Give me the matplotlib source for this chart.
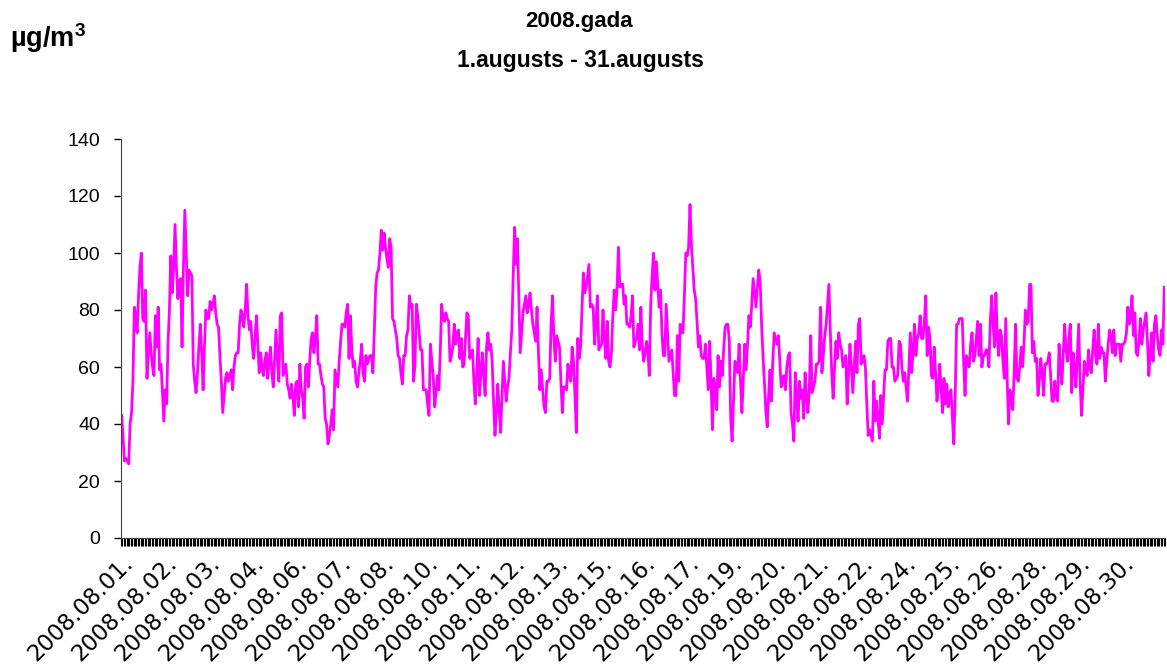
import numpy as np
import matplotlib.pyplot as plt

plt.rcParams['font.family'] = ['Liberation Sans', 'DejaVu Sans']
plt.rcParams['mathtext.fontset'] = 'custom'
plt.rcParams['mathtext.rm'] = 'Liberation Sans'
plt.rcParams['mathtext.bf'] = 'Liberation Sans:bold'

# hourly values, one list per day of August 2008
day01 = [43, 35, 27, 28, 27, 26, 40, 44, 55, 81, 78, 72, 85, 95, 100, 77, 76, 87, 56, 65, 72, 65, 60, 57]
day02 = [78, 67, 81, 59, 61, 52, 41, 52, 47, 68, 80, 99, 86, 95, 110, 95, 84, 90, 91, 67, 95, 115, 100, 85]
day03 = [94, 93, 92, 61, 55, 51, 58, 67, 75, 65, 52, 68, 80, 77, 77, 83, 80, 82, 85, 79, 75, 74, 64, 55]
day04 = [44, 50, 56, 58, 55, 57, 59, 52, 60, 64, 65, 65, 75, 80, 78, 74, 80, 89, 78, 73, 76, 68, 63, 70]
day05 = [78, 68, 58, 65, 60, 57, 62, 65, 56, 62, 67, 58, 53, 63, 73, 62, 55, 78, 79, 57, 59, 61, 54, 52]
day06 = [49, 54, 50, 43, 54, 55, 46, 61, 52, 49, 42, 60, 61, 53, 62, 70, 72, 65, 70, 78, 61, 61, 57, 54]
day07 = [53, 42, 40, 33, 36, 40, 45, 38, 59, 56, 53, 62, 69, 75, 75, 74, 79, 82, 63, 78, 66, 60, 62, 55]
day08 = [53, 58, 62, 68, 58, 55, 64, 61, 63, 64, 64, 58, 72, 88, 93, 94, 100, 108, 101, 107, 102, 98, 95, 105]
day09 = [102, 77, 76, 73, 70, 64, 63, 58, 54, 64, 64, 71, 73, 85, 81, 82, 55, 61, 82, 78, 72, 66, 66, 52]
day10 = [52, 52, 47, 43, 68, 62, 57, 46, 51, 57, 52, 65, 82, 77, 76, 79, 77, 76, 62, 64, 67, 75, 68, 72]
day11 = [73, 63, 70, 60, 61, 70, 79, 78, 63, 65, 66, 55, 47, 58, 70, 50, 58, 65, 57, 50, 67, 72, 66, 68]
day12 = [62, 48, 36, 44, 54, 45, 37, 50, 62, 55, 48, 53, 56, 65, 73, 92, 109, 96, 105, 85, 65, 72, 79, 82]
day13 = [85, 79, 82, 86, 80, 75, 72, 69, 81, 65, 52, 59, 52, 46, 44, 55, 55, 56, 75, 85, 70, 62, 71, 69]
day14 = [67, 55, 44, 53, 53, 52, 61, 57, 55, 67, 62, 50, 37, 70, 63, 67, 80, 93, 86, 88, 92, 96, 81, 82]
day15 = [81, 68, 76, 85, 66, 67, 68, 80, 70, 63, 76, 62, 60, 65, 78, 87, 80, 88, 102, 88, 89, 89, 82, 85]
day16 = [75, 75, 74, 78, 85, 67, 69, 70, 75, 66, 81, 67, 62, 65, 69, 65, 57, 82, 92, 100, 87, 97, 89, 81]
day17 = [87, 72, 64, 64, 82, 72, 62, 64, 66, 58, 50, 50, 71, 55, 75, 72, 72, 85, 100, 99, 102, 117, 103, 95]
day18 = [87, 84, 76, 67, 71, 64, 63, 63, 68, 60, 52, 69, 55, 38, 56, 50, 45, 64, 53, 62, 57, 66, 74, 75]
day19 = [75, 69, 42, 34, 48, 62, 61, 58, 68, 55, 44, 56, 68, 59, 68, 78, 74, 82, 91, 86, 81, 88, 94, 90]
day20 = [75, 64, 55, 45, 39, 50, 59, 48, 62, 72, 70, 68, 71, 62, 53, 56, 57, 52, 60, 64, 65, 44, 40, 34]
day21 = [58, 50, 41, 55, 49, 52, 42, 58, 50, 44, 52, 71, 51, 53, 55, 61, 61, 62, 81, 58, 64, 71, 75, 82]
day22 = [89, 72, 58, 49, 60, 69, 63, 72, 68, 66, 60, 62, 64, 47, 58, 68, 60, 51, 60, 69, 58, 75, 77, 61]
day23 = [62, 64, 60, 47, 36, 38, 36, 34, 55, 41, 48, 42, 35, 50, 40, 50, 59, 59, 69, 70, 70, 60, 60, 55]
day24 = [56, 57, 69, 68, 60, 55, 58, 53, 48, 60, 72, 58, 66, 75, 64, 70, 72, 78, 70, 70, 76, 85, 64, 74]
day25 = [70, 57, 56, 67, 58, 48, 53, 61, 52, 44, 56, 47, 54, 46, 50, 52, 42, 33, 50, 75, 75, 77, 77, 77]
day26 = [62, 50, 64, 62, 60, 68, 72, 62, 64, 70, 76, 64, 75, 60, 64, 64, 66, 66, 60, 76, 85, 75, 67, 86]
day27 = [70, 64, 73, 71, 62, 56, 77, 56, 40, 52, 48, 45, 58, 75, 56, 55, 60, 67, 60, 68, 80, 75, 76, 89]
day28 = [89, 65, 69, 62, 63, 50, 56, 63, 57, 50, 61, 61, 62, 65, 57, 48, 48, 55, 50, 48, 68, 60, 54, 65]
day29 = [75, 66, 62, 70, 75, 51, 65, 60, 53, 64, 75, 55, 43, 52, 62, 60, 57, 66, 60, 58, 66, 73, 64, 61]
day30 = [75, 63, 67, 65, 65, 55, 62, 68, 73, 71, 65, 73, 64, 68, 68, 68, 62, 68, 68, 69, 72, 81, 75, 78]
day31 = [85, 71, 79, 65, 64, 70, 77, 68, 73, 76, 79, 69, 57, 65, 72, 62, 75, 78, 71, 66, 64, 73, 68, 88]

days = [day01, day02, day03, day04, day05, day06, day07, day08, day09, day10,
        day11, day12, day13, day14, day15, day16, day17, day18, day19, day20,
        day21, day22, day23, day24, day25, day26, day27, day28, day29, day30, day31]
values = np.concatenate(days)

tick_labels = ['2008.08.01.', '2008.08.02.', '2008.08.03.', '2008.08.04.', '2008.08.06.',
               '2008.08.07.', '2008.08.08.', '2008.08.10.', '2008.08.11.', '2008.08.12.',
               '2008.08.13.', '2008.08.15.', '2008.08.16.', '2008.08.17.', '2008.08.19.',
               '2008.08.20.', '2008.08.21.', '2008.08.22.', '2008.08.24.', '2008.08.25.',
               '2008.08.26.', '2008.08.28.', '2008.08.29.', '2008.08.30.']
label_step = 31  # one label every 31 hours, like the category axis in the original
y_ticks = [0, 20, 40, 60, 80, 100, 120, 140]

W, H = 1167, 671
fig = plt.figure(figsize=(W / 100, H / 100), dpi=100, facecolor='white')
ax = fig.add_axes([121 / W, 1 - 538 / H, 1044 / W, 399 / H])

n = len(values)
x = np.arange(n) + 0.5
ax.plot(x, values, color='#ff00ff', linewidth=2.0)

ax.set_xlim(0, n)
ax.set_ylim(0, 140)
ax.set_yticks(y_ticks)
ax.tick_params(axis='y', direction='out', length=5, width=1, labelsize=14, pad=10)

ax.set_xticks(np.arange(len(tick_labels)) * label_step + 0.5)
ax.set_xticklabels(tick_labels, family=['DejaVu Sans'])
ax.set_xticks(np.arange(n + 1), minor=True)
ax.tick_params(axis='x', which='major', length=0, pad=10, labelsize=16.5)
ax.tick_params(axis='x', which='minor', direction='out', length=6, width=0.8, color='black')
plt.setp(ax.get_xticklabels(), rotation=45, ha='right', va='top', rotation_mode='anchor')

for s in ['top', 'right']:
    ax.spines[s].set_visible(False)
ax.spines['left'].set_color('#404040')
ax.spines['bottom'].set_color('#404040')

fig.text(579 / W, 1 - 22 / H, '2008.gada', ha='center', va='center',
         fontsize=16, fontweight='bold')
fig.text(580 / W, 1 - 61 / H, '1.augusts - 31.augusts', ha='center', va='center',
         fontsize=16.5, fontweight='bold')
fig.text(10 / W, 1 - 38 / H, r'µg/m$^{\mathbf{3}}$', ha='left', va='center',
         fontsize=19.5, fontweight='bold')

fig.savefig('out.png', dpi=100, facecolor='white')
